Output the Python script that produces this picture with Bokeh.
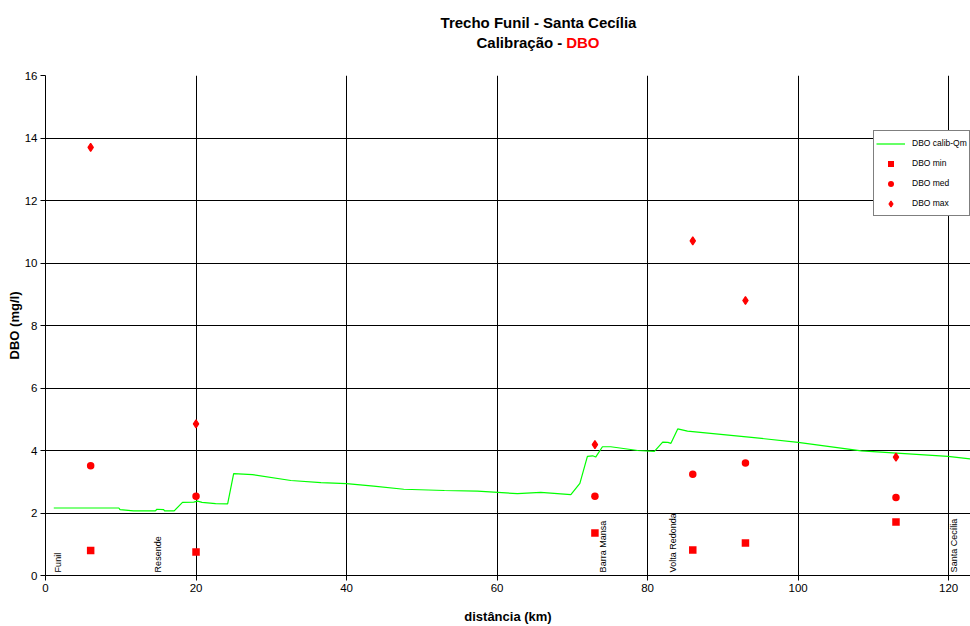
import numpy as np
from bokeh.plotting import figure
from bokeh.layouts import column
from bokeh.models import ColumnDataSource, Legend, LegendItem, FixedTicker, Range1d
from bokeh.core.properties import value
from bokeh.embed import file_html
from bokeh.resources import INLINE

# ---------------- data ----------------
calib_km = [1.1, 9.75, 9.9, 11.7, 14.6, 14.8, 15.7, 15.8, 17.1, 18.2, 19.7, 20.2, 20.8,
            22.6, 24.2, 25.0, 27.5, 32.6, 36.6, 40.0, 43.6, 47.6, 53.0, 57.4, 60.1, 62.7,
            65.8, 69.8, 71.0, 72.0, 72.7, 73.1, 74.0, 75.1, 78.7, 80.9, 82.0, 82.7, 83.1,
            84.0, 85.3, 93.8, 100.0, 108.4, 119.9, 123.0]
calib_dbo = [2.16, 2.16, 2.11, 2.07, 2.07, 2.12, 2.11, 2.07, 2.07, 2.34, 2.35, 2.38, 2.34,
             2.30, 2.29, 3.26, 3.23, 3.04, 2.97, 2.94, 2.86, 2.76, 2.72, 2.70, 2.66, 2.62,
             2.66, 2.59, 2.95, 3.81, 3.83, 3.79, 4.12, 4.12, 4.00, 3.97, 4.27, 4.26, 4.23,
             4.69, 4.62, 4.42, 4.26, 3.99, 3.81, 3.73]

obs_km = [6, 20, 73, 86, 93, 113]
dbo_min = [0.80, 0.75, 1.36, 0.82, 1.04, 1.71]
dbo_med = [3.51, 2.54, 2.54, 3.24, 3.60, 2.50]
dbo_max = [13.70, 4.85, 4.19, 10.71, 8.80, 3.79]

place_names = ["Funil", "Resende", "Barra Mansa", "Volta Redonda", "Santa Cecília"]
place_km = [1.6, 15.0, 74.1, 83.4, 120.7]

x_ticks = [0, 20, 40, 60, 80, 100, 120]
y_ticks = [0, 2, 4, 6, 8, 10, 12, 14, 16]

title_line1 = "Trecho Funil - Santa Cecília"
title_line2a = "Calibração -"
title_line2b = "DBO"

FONT = "Liberation Sans"
RED = "#FF0000"
GREEN = "#00FF00"
W = 970
TH = 67

# ---------------- title strip ----------------
t = figure(width=W, height=TH, output_backend="svg", toolbar_location=None,
           x_range=Range1d(0, W), y_range=Range1d(0, TH),
           x_axis_location=None, y_axis_location=None,
           min_border_left=0, min_border_right=0, min_border_top=0, min_border_bottom=0)
t.outline_line_color = None
t.xgrid.visible = False
t.ygrid.visible = False
t.text(x=[517], y=[45], text=[title_line1], text_align="center", text_baseline="middle",
       text_font=value(FONT), text_font_size="15px", text_font_style="bold",
       text_color="black")
t.text(x=[542], y=[25], text=[title_line2a], text_align="right", text_baseline="middle",
       text_font=value(FONT), text_font_size="15px", text_font_style="bold",
       text_color="black")
t.text(x=[546], y=[25], text=[title_line2b], text_align="left", text_baseline="middle",
       text_font=value(FONT), text_font_size="15px", text_font_style="bold",
       text_color=RED)

# ---------------- main chart ----------------
p = figure(width=W, height=559, output_backend="svg", toolbar_location=None,
           x_range=Range1d(0, 122.9), y_range=Range1d(0, 16),
           min_border_left=45, min_border_right=0, min_border_top=8, min_border_bottom=49)
p.outline_line_color = None

for ax in (p.xaxis[0], p.yaxis[0]):
    ax.axis_line_color = "black"
    ax.major_tick_line_color = "black"
    ax.major_tick_out = 5
    ax.major_tick_in = 0
    ax.minor_tick_line_color = None
    ax.major_label_text_font = FONT
    ax.major_label_text_font_size = "11.5px"
    ax.major_label_text_color = "black"
    ax.axis_label_text_font = FONT
    ax.axis_label_text_font_style = "bold"
    ax.axis_label_text_font_size = "13px"
    ax.axis_label_text_color = "black"

p.xaxis.ticker = FixedTicker(ticks=x_ticks)
p.yaxis.ticker = FixedTicker(ticks=y_ticks)
p.xaxis.axis_label = "distância (km)"
p.yaxis.axis_label = "DBO (mg/l)"
p.xaxis.major_label_standoff = 3
p.xaxis.axis_label_standoff = 14
p.yaxis.major_label_standoff = 3
p.yaxis.axis_label_standoff = 0

p.xgrid.ticker = FixedTicker(ticks=x_ticks)
p.ygrid.ticker = FixedTicker(ticks=y_ticks)
p.xgrid.grid_line_color = "black"
p.ygrid.grid_line_color = "black"

line_r = p.line(calib_km, calib_dbo, line_color=GREEN, line_width=1.2)
min_r = p.scatter(obs_km, dbo_min, marker="square", size=7.5, fill_color=RED, line_color=None)
med_r = p.scatter(obs_km, dbo_med, marker="circle", size=7.5, fill_color=RED, line_color=None)
max_r = p.scatter(obs_km, dbo_max, marker="diamond", size=8, fill_color=RED,
                  line_color=RED, line_width=1.2)

place_src = ColumnDataSource(dict(x=place_km, y=[0.1] * len(place_km), text=place_names))
p.text(x="x", y="y", text="text", source=place_src, angle=np.pi / 2,
       text_align="left", text_baseline="middle", text_font=value(FONT),
       text_font_size="9px", text_color="black")

legend = Legend(items=[
    LegendItem(label="DBO calib-Qm", renderers=[line_r]),
    LegendItem(label="DBO min", renderers=[min_r]),
    LegendItem(label="DBO med", renderers=[med_r]),
    LegendItem(label="DBO max", renderers=[max_r]),
], location=(828, 359))
legend.border_line_color = "black"
legend.border_line_width = 1
legend.background_fill_color = "white"
legend.background_fill_alpha = 1
legend.label_text_font = FONT
legend.label_text_font_size = "8.5px"
legend.label_text_color = "black"
legend.padding = 2
legend.spacing = 0
legend.margin = 0
legend.glyph_width = 29
legend.glyph_height = 15
legend.label_height = 20
legend.label_standoff = 7
p.add_layout(legend, "center")

layout = column(t, p, spacing=0)
open("out.html", "w").write(file_html(layout, INLINE))
